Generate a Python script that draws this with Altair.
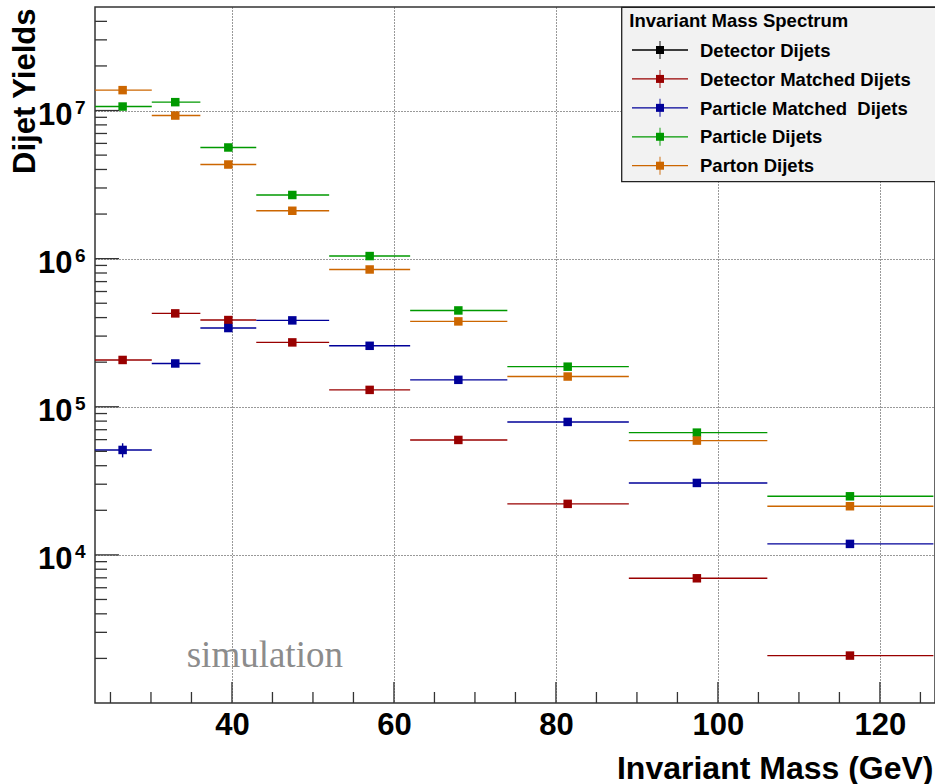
import altair as alt
import pandas as pd

# ---------------- data ----------------
BIN_LOW = [22.9, 30.1, 36.1, 43.0, 52.0, 62.0, 74.0, 89.0, 106.1]
BIN_HIGH = [30.1, 36.1, 43.0, 52.0, 62.0, 74.0, 89.0, 106.1, 126.6]
BIN_CENTER = [26.5, 33.0, 39.55, 47.45, 57.0, 67.95, 81.45, 97.4, 116.3]

SERIES = ["Detector Dijets", "Detector Matched Dijets", "Particle Matched  Dijets",
          "Particle Dijets", "Parton Dijets"]
COLORS = ["#000000", "#990000", "#000099", "#009900", "#cc6600"]

DETECTOR_MATCHED = [2.07e5, 4.27e5, 3.85e5, 2.72e5, 1.30e5, 5.97e4, 2.21e4, 6.95e3, 2.09e3]
PARTICLE_MATCHED = [5.11e4, 1.96e5, 3.40e5, 3.83e5, 2.58e5, 1.52e5, 7.90e4, 3.06e4, 1.186e4]
PARTICLE = [1.064e7, 1.139e7, 5.63e6, 2.69e6, 1.041e6, 4.47e5, 1.865e5, 6.69e4, 2.486e4]
PARTON = [1.373e7, 9.25e6, 4.32e6, 2.105e6, 8.45e5, 3.77e5, 1.60e5, 5.91e4, 2.13e4]
PARTICLE_MATCHED_ERR = [5.6e3, 0, 0, 0, 0, 0, 0, 0, 0]
NO_ERR = [0, 0, 0, 0, 0, 0, 0, 0, 0]

X_LABELS = [40, 60, 80, 100, 120]
X_MINOR = [25, 30, 35, 45, 50, 55, 65, 70, 75, 85, 90, 95, 105, 110, 115, 125]
Y_MAJOR = [1e4, 1e5, 1e6, 1e7]
Y_EXP = ["4", "5", "6", "7"]
Y_MINOR = [m * 10 ** k for k in range(3, 8) for m in range(2, 10) if m * 10 ** k < 5e7]

X_TITLE = "Invariant Mass (GeV)"
Y_TITLE = "Dijet Yields"
LEGEND_TITLE = "Invariant Mass Spectrum"
SIM_TEXT = "simulation"

# ---------------- tables ----------------
rows = []
for name, vals, errs in [(SERIES[1], DETECTOR_MATCHED, NO_ERR),
                         (SERIES[2], PARTICLE_MATCHED, PARTICLE_MATCHED_ERR),
                         (SERIES[3], PARTICLE, NO_ERR),
                         (SERIES[4], PARTON, NO_ERR)]:
    for lo, hi, c, v, e in zip(BIN_LOW, BIN_HIGH, BIN_CENTER, vals, errs):
        rows.append(dict(series=name, low=lo, high=hi, center=c, value=v, err=e,
                         elo=v - e, ehi=v + e))
df = pd.DataFrame(rows)
df_err = df[df.err > 0]

FONT = "Liberation Sans"
x_scale = alt.Scale(domain=[23.09, 126.8], nice=False, zero=False)
y_scale = alt.Scale(type="log", domain=[1000, 5e7], nice=False)
color_scale = alt.Scale(domain=SERIES, range=COLORS)

x_axis = alt.Axis(values=X_LABELS, grid=True, gridColor="#333", gridDash=[1, 2], gridWidth=1,
                  ticks=False, tickSize=0, domain=False,
                  labelFont=FONT, labelFontSize=31, labelFontWeight="bold", labelColor="black",
                  labelPadding=7, title=X_TITLE, titleFont=FONT, titleFontSize=32,
                  titleFontWeight="bold", titleColor="black", titleX=838, titleY=75,
                  titleAlign="right", titleBaseline="alphabetic")
y_axis = alt.Axis(values=Y_MAJOR, grid=True, gridColor="#333", gridDash=[1, 2], gridWidth=1,
                  ticks=False, tickSize=0, domain=False, labels=False,
                  title=Y_TITLE, titleFont=FONT, titleFontSize=31, titleFontWeight="bold",
                  titleColor="black", titleAngle=270, titleAlign="right",
                  titleBaseline="alphabetic", titleX=-61, titleY=1)


def X(field):
    return alt.X(field, scale=x_scale, axis=x_axis)


def Y(field):
    return alt.Y(field, scale=y_scale, axis=y_axis)


color_enc = alt.Color("series:N", scale=color_scale, legend=None)

bars = alt.Chart(df).mark_rule(strokeWidth=1.4, clip=True).encode(
    x=X("low:Q"), x2="high:Q", y=Y("value:Q"), color=color_enc)
errs = alt.Chart(df_err).mark_rule(strokeWidth=1.4).encode(
    x=X("center:Q"), y=Y("elo:Q"), y2="ehi:Q", color=color_enc)
squares = alt.Chart(df).mark_square(size=72, opacity=1, filled=True).encode(
    x=X("center:Q"), y=Y("value:Q"), color=color_enc)

tick_color = "#333"
y_major_ticks = alt.Chart(pd.DataFrame({"v": Y_MAJOR})).mark_rule(color=tick_color, strokeWidth=1.3).encode(
    y=Y("v:Q"), x=alt.value(0), x2=alt.value(24))
y_minor_ticks = alt.Chart(pd.DataFrame({"v": Y_MINOR})).mark_rule(color=tick_color, strokeWidth=1.3).encode(
    y=Y("v:Q"), x=alt.value(0), x2=alt.value(12))
x_major_ticks = alt.Chart(pd.DataFrame({"v": X_LABELS})).mark_rule(color=tick_color, strokeWidth=1.3).encode(
    x=X("v:Q"), y=alt.value(696), y2=alt.value(675))
x_minor_ticks = alt.Chart(pd.DataFrame({"v": X_MINOR})).mark_rule(color=tick_color, strokeWidth=1.3).encode(
    x=X("v:Q"), y=alt.value(696), y2=alt.value(685))

ylab_df = pd.DataFrame({"v": Y_MAJOR, "base": ["10"] * len(Y_MAJOR), "exp": Y_EXP})
ylab_base = alt.Chart(ylab_df).mark_text(
    align="right", baseline="alphabetic", dy=14.5, font=FONT,
    fontWeight="bold", fontSize=31, color="black").encode(
    y=Y("v:Q"), x=alt.value(-22.5), text="base:N")
ylab_exp = alt.Chart(ylab_df).mark_text(
    align="left", baseline="alphabetic", dy=3, font=FONT,
    fontWeight="bold", fontSize=19, color="black").encode(
    y=Y("v:Q"), x=alt.value(-20), text="exp:N")

sim = alt.Chart(pd.DataFrame({"t": [SIM_TEXT]})).mark_text(
    align="left", baseline="alphabetic", font="Liberation Serif", fontSize=37,
    color="#8c8c8c").encode(x=alt.value(91.7), y=alt.value(659.7), text="t:N")

main = alt.layer(bars, errs, squares, y_major_ticks, y_minor_ticks, x_major_ticks,
                 x_minor_ticks, ylab_base, ylab_exp, sim)

# ---------------- legend ----------------
leg_df = pd.DataFrame({"series": SERIES,
                       "label": [s.replace("  ", "\u00a0 ") for s in SERIES]})
leg_y = alt.Y("series:N", scale=alt.Scale(type="point", domain=SERIES, range=[43, 158.7], padding=0),
              axis=None)

leg_box = alt.Chart(pd.DataFrame({"t": [LEGEND_TITLE]})).mark_rect(
    fill="#f2f2f2", stroke="#222", strokeWidth=1.3).encode(
    x=alt.value(526.7), x2=alt.value(846), y=alt.value(0.3), y2=alt.value(174.7))
leg_title = alt.Chart(pd.DataFrame({"t": [LEGEND_TITLE]})).mark_text(
    align="left", baseline="alphabetic", font=FONT, fontWeight="bold", fontSize=18.5,
    color="black").encode(x=alt.value(534.3), y=alt.value(20.3), text="t:N")
leg_lines = alt.Chart(leg_df).mark_rule(strokeWidth=1.3).encode(
    x=alt.value(537), x2=alt.value(593), y=leg_y, color=color_enc)
leg_vbars = alt.Chart(leg_df).mark_tick(orient="vertical", size=18, thickness=1.3).encode(
    x=alt.value(565), y=leg_y, color=color_enc)
leg_marks = alt.Chart(leg_df).mark_square(size=64, opacity=1, filled=True).encode(
    x=alt.value(565), y=leg_y, color=color_enc)
leg_text = alt.Chart(leg_df).mark_text(
    align="left", baseline="alphabetic", dy=6.7, font=FONT, fontWeight="bold",
    fontSize=18.5, color="black").encode(x=alt.value(605), y=leg_y, text="label:N")

legend = alt.layer(leg_box, leg_title, leg_lines, leg_vbars, leg_marks, leg_text)

chart = alt.layer(main, legend).resolve_scale(y="independent").properties(
    width=840, height=696,
    padding={"left": 95, "top": 7, "right": 0, "bottom": 81},
    autosize=alt.AutoSizeParams(type="none"),
    background="white",
).configure_view(stroke="#333", strokeWidth=1.5)

chart.save("out.html", embed_options={"renderer": "svg", "actions": False})
